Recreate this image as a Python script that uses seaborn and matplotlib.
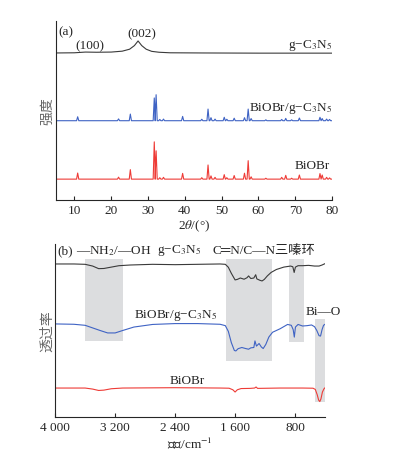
import numpy as np
import pandas as pd
import matplotlib
matplotlib.use("Agg")
import matplotlib.pyplot as plt
import seaborn as sns

# ---- XRD (a) ----
# g-C3N5: broad hump points
gcn_xrd_x = [5, 10, 13, 16, 20, 23, 25, 26.3, 27.3, 28.3, 29.5, 31, 33, 36, 45, 60, 80]
gcn_xrd_y = [0.821, 0.822, 0.826, 0.825, 0.826, 0.831, 0.842, 0.862, 0.888, 0.862, 0.842, 0.830, 0.825, 0.822, 0.821, 0.820, 0.820]

# sharp peaks: positions and apex heights
bio_pos = [10.9, 22.0, 25.2, 31.7, 32.2, 33.2, 34.2, 39.4, 44.6, 46.3, 47.1, 48.2, 50.7, 51.4,
           53.4, 56.2, 57.2, 58.0, 62.0, 66.3, 67.4, 69.0, 71.1, 76.7, 77.3, 78.5, 79.3]
bio_h = [0.151, 0.128, 0.170, 0.325, 0.275, 0.125, 0.127, 0.149, 0.125, 0.196, 0.135, 0.127, 0.142, 0.125,
         0.137, 0.150, 0.220, 0.130, 0.122, 0.127, 0.138, 0.122, 0.140, 0.148, 0.140, 0.127, 0.124]
bio_base = 0.117

comp_pos = bio_pos
comp_h = [0.465, 0.453, 0.480, 0.570, 0.588, 0.450, 0.452, 0.467, 0.451, 0.508, 0.460, 0.452, 0.462, 0.451,
          0.457, 0.460, 0.508, 0.455, 0.448, 0.450, 0.456, 0.448, 0.458, 0.462, 0.455, 0.452, 0.450]
comp_base = 0.443

# ---- FTIR (b) ----
ir_gcn_x = [4000, 3750, 3600, 3500, 3420, 3350, 3250, 3150, 3000, 2700, 2400, 2100, 1800, 1730, 1690, 1650,
            1600, 1570, 1530, 1480, 1440, 1420, 1390, 1350, 1325, 1310, 1270, 1240, 1210, 1170, 1120, 1050,
            950, 860, 830, 812, 795, 760, 700, 620, 540, 480, 440, 400]
ir_gcn_y = [0.884, 0.884, 0.882, 0.872, 0.857, 0.858, 0.866, 0.874, 0.878, 0.882, 0.880, 0.882, 0.884, 0.882, 0.865, 0.830,
            0.792, 0.795, 0.803, 0.796, 0.805, 0.815, 0.800, 0.803, 0.822, 0.798, 0.790, 0.786, 0.795, 0.815, 0.835, 0.852,
            0.866, 0.872, 0.868, 0.835, 0.866, 0.874, 0.874, 0.876, 0.872, 0.872, 0.878, 0.886]

ir_comp_x = [4000, 3750, 3600, 3500, 3400, 3300, 3200, 3100, 2950, 2700, 2400, 2100, 1800, 1730, 1690, 1650,
             1610, 1590, 1560, 1510, 1460, 1420, 1390, 1350, 1335, 1315, 1280, 1250, 1225, 1190, 1150, 1100,
             1000, 900, 850, 825, 810, 795, 760, 700, 640, 580, 540, 510, 480, 460, 440, 420, 400]
ir_comp_y = [0.538, 0.536, 0.530, 0.515, 0.500, 0.486, 0.486, 0.500, 0.520, 0.535, 0.540, 0.540, 0.536, 0.528, 0.495, 0.430,
             0.385, 0.382, 0.395, 0.402, 0.396, 0.392, 0.400, 0.402, 0.440, 0.410, 0.425, 0.405, 0.396, 0.420, 0.462, 0.490,
             0.510, 0.535, 0.530, 0.505, 0.462, 0.520, 0.535, 0.526, 0.528, 0.532, 0.522, 0.500, 0.470, 0.468, 0.505, 0.530, 0.536]

ir_bio_x = [4000, 3600, 3500, 3420, 3350, 3250, 3100, 2400, 1800, 1680, 1630, 1600, 1570, 1520, 1400, 1340,
            1320, 1300, 1000, 700, 560, 530, 505, 485, 470, 455, 435, 415, 400]
ir_bio_y = [0.168, 0.168, 0.162, 0.154, 0.156, 0.164, 0.168, 0.170, 0.168, 0.167, 0.158, 0.145, 0.158, 0.165, 0.166, 0.168,
            0.174, 0.166, 0.168, 0.168, 0.167, 0.160, 0.130, 0.098, 0.090, 0.105, 0.145, 0.163, 0.170]

# shaded bands: (high wavenumber, low wavenumber, y bottom, y top)
bands_hi = [3600, 1720, 880, 535]
bands_lo = [3100, 1105, 680, 400]
bands_y0 = [0.439, 0.324, 0.434, 0.087]
bands_y1 = [0.913, 0.913, 0.913, 0.566]

BLACK = "#3a3a3a"
BLUE = "#3f63c4"
RED = "#ee3b36"
GRAY = "#dcdddf"
FS = 9.5


def peak_path(pos, h, base, lo=5, hi=80, hw=0.3):
    xs, ys = [lo], [base]
    for p, v in zip(pos, h):
        xs += [p - hw, p, p + hw]
        ys += [base, v, base]
    xs.append(hi)
    ys.append(base)
    return xs, ys


sns.set_style("ticks")
plt.rcParams["font.family"] = ["Liberation Serif", "Noto Sans CJK SC", "DejaVu Sans"]
plt.rcParams["mathtext.fontset"] = "stix"
plt.rcParams["axes.linewidth"] = 0.8

fig = plt.figure(figsize=(3.94, 4.56), dpi=100)
ax1 = fig.add_axes([0.142, 0.559, 0.701, 0.393])
ax2 = fig.add_axes([0.140, 0.083, 0.685, 0.380])

# ----- panel (a)
sns.lineplot(x=gcn_xrd_x, y=gcn_xrd_y, ax=ax1, color=BLACK, lw=0.8, sort=False)
cx, cy = peak_path(comp_pos, comp_h, comp_base)
sns.lineplot(x=cx, y=cy, ax=ax1, color=BLUE, lw=0.8, sort=False)
bx, by = peak_path(bio_pos, bio_h, bio_base)
sns.lineplot(x=bx, y=by, ax=ax1, color=RED, lw=0.8, sort=False)

ax1.set_xlim(5, 80)
ax1.set_ylim(0, 1)
ax1.set_yticks([])
ax1.set_xticks([10, 20, 30, 40, 50, 60, 70, 80])
ax1.tick_params(axis="x", direction="in", length=3, labelsize=FS, pad=3)
sns.despine(ax=ax1)
ax1.set_xlabel("2$\\theta$/(°)", fontsize=FS, labelpad=1)
ax1.set_ylabel("强度", fontsize=10, color="#666666", labelpad=1)

ax1.text(0.01, 0.975, "(a)", transform=ax1.transAxes, fontsize=FS, va="top")
ax1.text(14.2, 0.866, "(100)", fontsize=FS, ha="center", va="center")
ax1.text(28.2, 0.933, "(002)", fontsize=FS, ha="center", va="center")
ax1.text(80, 0.87, "g−C$_3$N$_5$", fontsize=FS, ha="right", va="center")
ax1.text(80, 0.514, "BiOBr/g−C$_3$N$_5$", fontsize=FS, ha="right", va="center")
ax1.text(79.5, 0.196, "BiOBr", fontsize=FS, ha="right", va="center")

# ----- panel (b)
for h, l, y0, y1 in zip(bands_hi, bands_lo, bands_y0, bands_y1):
    ax2.fill_between([h, l], y0, y1, color=GRAY, lw=0, zorder=0)

sns.lineplot(x=ir_gcn_x, y=ir_gcn_y, ax=ax2, color=BLACK, lw=0.8, sort=False)
sns.lineplot(x=ir_comp_x, y=ir_comp_y, ax=ax2, color=BLUE, lw=0.8, sort=False)
sns.lineplot(x=ir_bio_x, y=ir_bio_y, ax=ax2, color=RED, lw=0.8, sort=False)

ax2.set_xlim(4000, 400)
ax2.set_ylim(0, 1)
ax2.set_yticks([])
ax2.set_xticks([4000, 3200, 2400, 1600, 800])
ax2.set_xticklabels(["4 000", "3 200", "2 400", "1 600", "800"])
ax2.tick_params(axis="x", direction="in", length=3, labelsize=FS, pad=3)
sns.despine(ax=ax2)
ax2.set_xlabel("波数/cm$^{-1}$", fontsize=FS, labelpad=1)
ax2.set_ylabel("透过率", fontsize=10, color="#666666", labelpad=1)

ax2.text(0.01, 0.965, "(b)", transform=ax2.transAxes, fontsize=FS, va="center")
ax2.text(3720, 0.965, "—NH$_2$/—OH", fontsize=FS, ha="left", va="center")
ax2.text(2640, 0.965, "g−C$_3$N$_5$", fontsize=FS, ha="left", va="center")
ax2.text(1900, 0.965, "C═N/C—N三嗪环", fontsize=FS, ha="left", va="center")
ax2.text(2400, 0.59, "BiOBr/g−C$_3$N$_5$", fontsize=FS, ha="center", va="center")
ax2.text(430, 0.613, "Bi—O", fontsize=FS, ha="center", va="center")
ax2.text(2240, 0.214, "BiOBr", fontsize=FS, ha="center", va="center")

fig.savefig("out.png", dpi=100, facecolor="white")
